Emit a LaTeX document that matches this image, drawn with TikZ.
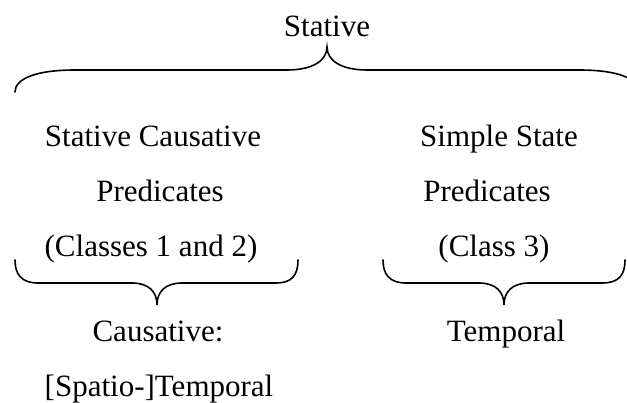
\documentclass[tikz,border=0pt]{standalone}
\usepackage{fontspec}
\setmainfont{Liberation Serif}
\usepackage{tikz}

\begin{document}
\begin{tikzpicture}[x=1pt, y=-1pt, anchor=base, font=\fontsize{31}{37}\selectfont,
    brace/.style={line width=1.6pt, line cap=round}]
    \useasboundingbox (0,0) rectangle (627,403);
    \node (stative) at (327,37) {Stative};
    \draw[brace] (15,92) .. controls (15,79) and (35,70) .. (75,70) -- (287,70)
        .. controls (312,70) and (327,61) .. (327,47)
        .. controls (327,61) and (342,70) .. (367,70) -- (579,70)
        .. controls (619,70) and (639,79) .. (639,92);
    \node (causL) at (153,147) {Stative Causative};
    \node (predL) at (160,202) {Predicates};
    \node (classL) at (151,257) {(Classes 1 and 2)};
    \node (simpleR) at (499,147) {Simple State};
    \node (predR) at (487,202) {Predicates};
    \node (classR) at (494,257) {(Class 3)};
    \draw[brace] (15,260) .. controls (15,275) and (22,283) .. (38,283) -- (132,283)
        .. controls (149,283) and (157,292) .. (157,305)
        .. controls (157,292) and (165,283) .. (182,283) -- (276,283)
        .. controls (292,283) and (298,275) .. (298,260);
    \draw[brace] (383,260) .. controls (383,275) and (390,283) .. (406,283) -- (479,283)
        .. controls (496,283) and (504,292) .. (504,305)
        .. controls (504,292) and (512,283) .. (529,283) -- (602,283)
        .. controls (619,283) and (625,275) .. (625,260);
    \node (causB) at (158,342) {Causative:};
    \node (spatio) at (159,397) {[Spatio-]Temporal};
    \node (tempB) at (506,342) {Temporal};
\end{tikzpicture}
\end{document}
